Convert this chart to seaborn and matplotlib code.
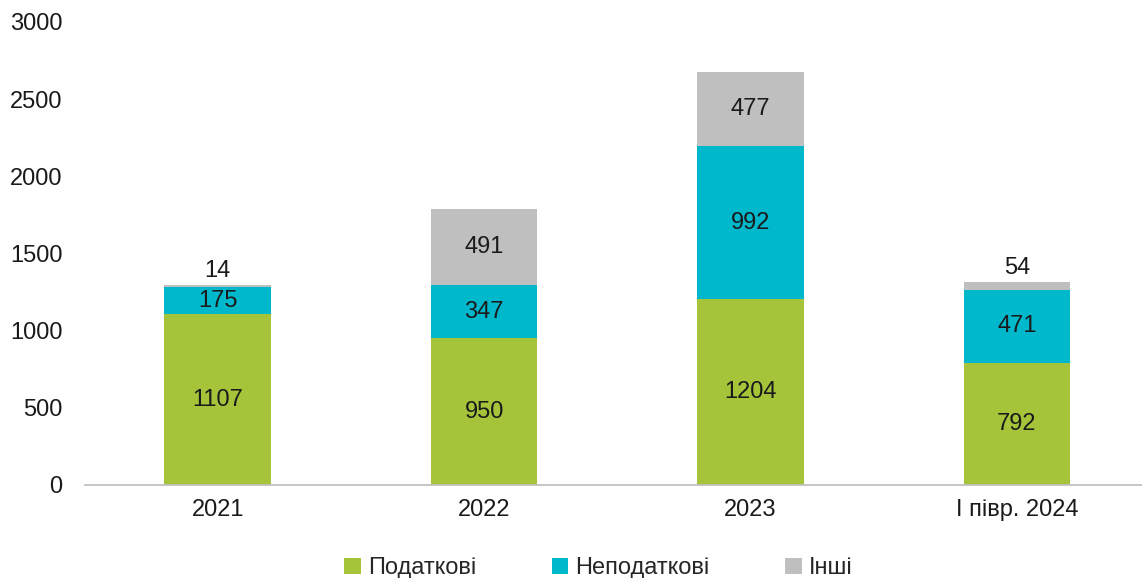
import matplotlib
matplotlib.use("Agg")
import matplotlib.pyplot as plt
import seaborn as sns
import pandas as pd
import numpy as np

categories = ["2021", "2022", "2023", "І півр. 2024"]
tax = [1107, 950, 1204, 792]
nontax = [175, 347, 992, 471]
other = [14, 491, 477, 54]
series_names = ["Податкові", "Неподаткові", "Інші"]
colors = ["#A5C43A", "#00B8CC", "#BFBFBF"]

sns.set_theme(style="white")
plt.rcParams["font.family"] = ["Liberation Sans", "DejaVu Sans"]

fig = plt.figure(figsize=(11.42, 5.78), dpi=100)
ax = fig.add_axes([0.074, 0.161, 0.926, 0.801])

FS = 17
values = [tax, nontax, other]
bottoms = np.zeros(len(categories))
for name, vals, col in zip(series_names, values, colors):
    df = pd.DataFrame({"cat": categories, "val": vals})
    sns.barplot(data=df, x="cat", y="val", color=col, width=0.4,
                bottom=bottoms.copy(), ax=ax, label=name, saturation=1,
                linewidth=0, edgecolor="none")
    for i, v in enumerate(vals):
        if v < 100:
            y = bottoms[i] + v + 18
            va = "bottom"
        else:
            y = bottoms[i] + v / 2
            va = "center"
        ax.text(i, y, str(v), ha="center", va=va, fontsize=FS, color="#1a1a1a")
    bottoms = bottoms + np.array(vals)

ax.set_ylim(0, 3000)
ax.set_xlim(-0.5, 3.47)
ax.set_yticks(range(0, 3001, 500))
ax.set_xlabel("")
ax.set_ylabel("")
ax.tick_params(axis="both", labelsize=FS, colors="#1a1a1a", length=0)
ax.tick_params(axis="x", pad=10)
for s in ["top", "right", "left"]:
    ax.spines[s].set_visible(False)
ax.spines["bottom"].set_color("#BFBFBF")
ax.yaxis.set_tick_params(pad=16)

if ax.legend_:
    ax.legend_.remove()
handles, labels = ax.get_legend_handles_labels()
fig.legend(handles[:3], labels[:3], loc="lower center", bbox_to_anchor=(0.524, -0.039),
           ncol=3, frameon=False, fontsize=FS, handlelength=0.7, handleheight=0.7,
           handletextpad=0.3, columnspacing=3.2)

fig.savefig("out.png", dpi=100)
